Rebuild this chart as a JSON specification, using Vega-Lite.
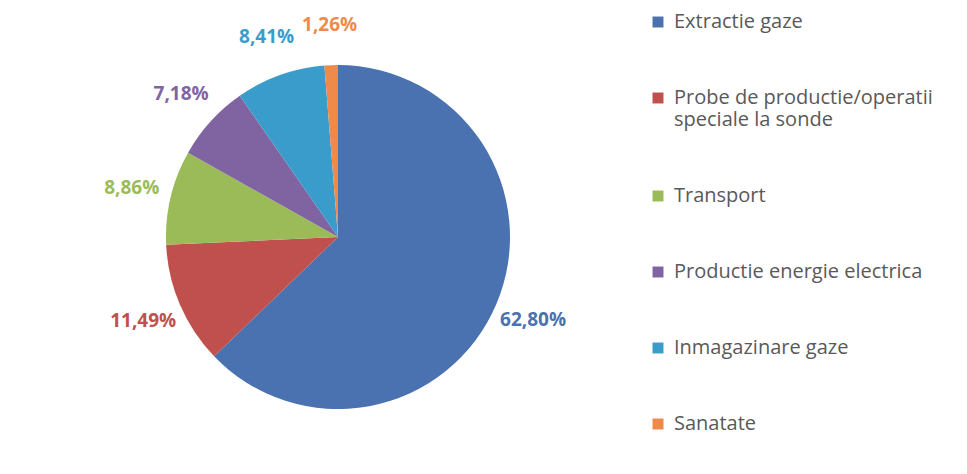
{
  "$schema": "https://vega.github.io/schema/vega-lite/v6.json",
  "width": 676,
  "height": 474,
  "padding": 0,
  "background": "white",
  "config": {"view": {"stroke": null}, "font": "Open Sans"},
  "data": {
    "values": [
      {"idx": 1, "categorie": "Extractie gaze", "procent": 62.80, "label": "62,80%"},
      {"idx": 2, "categorie": "Probe de productie/operatii speciale la sonde", "procent": 11.49, "label": "11,49%"},
      {"idx": 3, "categorie": "Transport", "procent": 8.86, "label": "8,86%"},
      {"idx": 4, "categorie": "Productie energie electrica", "procent": 7.18, "label": "7,18%"},
      {"idx": 5, "categorie": "Inmagazinare gaze", "procent": 8.41, "label": "8,41%"},
      {"idx": 6, "categorie": "Sanatate", "procent": 1.26, "label": "1,26%"}
    ]
  },
  "encoding": {
    "theta": {"field": "procent", "type": "quantitative", "stack": true},
    "order": {"field": "idx", "type": "quantitative"},
    "color": {
      "field": "categorie",
      "type": "nominal",
      "sort": null,
      "scale": {
        "domain": ["Extractie gaze", "Probe de productie/operatii speciale la sonde", "Transport", "Productie energie electrica", "Inmagazinare gaze", "Sanatate"],
        "range": ["#4a72b0", "#c0504d", "#9bbb59", "#8064a2", "#3a9ccb", "#f08a4b"]
      },
      "legend": {
        "title": null,
        "orient": "none",
        "legendX": 648,
        "legendY": 12,
        "symbolType": "square",
        "symbolSize": 120,
        "symbolStrokeWidth": 0,
        "labelFont": "Open Sans",
        "labelFontSize": 20,
        "labelColor": "#595959",
        "labelLimit": 320,
        "rowPadding": 56,
        "labelOffset": 6,
        "labelExpr": "datum.label == 'Probe de productie/operatii speciale la sonde' ? ['Probe de productie/operatii', 'speciale la sonde'] : datum.label"
      }
    }
  },
  "layer": [
    {"mark": {"type": "arc", "outerRadius": 172}},
    {
      "mark": {"type": "text", "radius": 212, "fontSize": 19, "fontWeight": "bold", "font": "Open Sans"},
      "encoding": {"text": {"field": "label", "type": "nominal"}}
    }
  ]
}
